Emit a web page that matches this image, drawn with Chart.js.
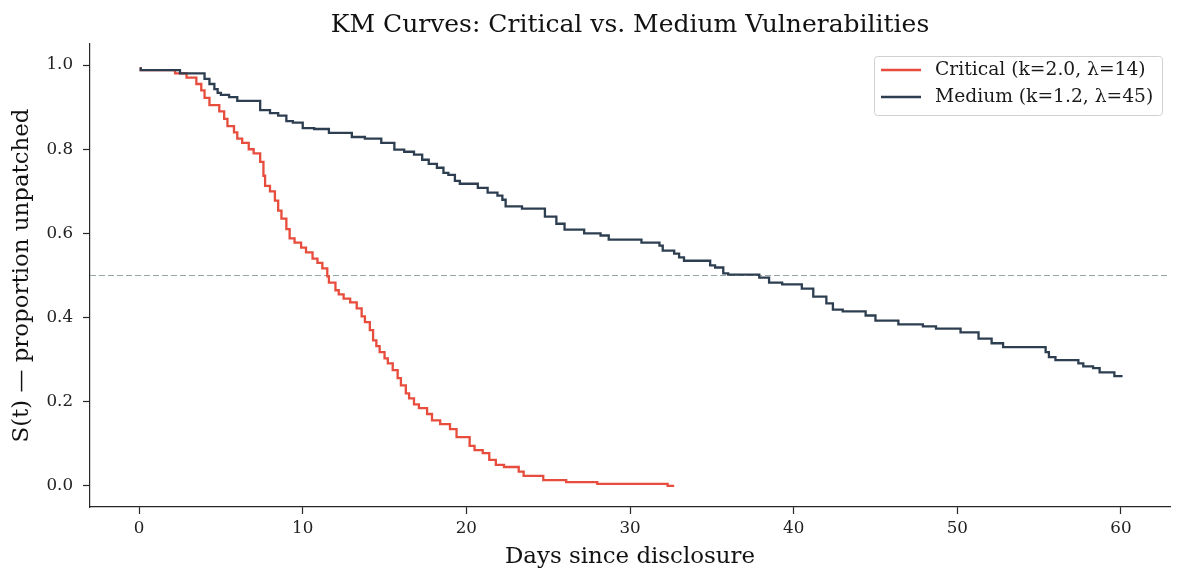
<!DOCTYPE html>
<html>
<head>
<meta charset="utf-8">
<script src="https://cdn.jsdelivr.net/npm/chart.js@4"></script>
<style>
  html, body { margin: 0; padding: 0; background: #fff; }
  #wrap { width: 1185px; height: 585px; }
</style>
</head>
<body>
<div id="wrap"><canvas id="km-chart"></canvas></div>
<script>
// Critical: days and survival proportion (KM step values)
const critDays = [0.1, 2.2, 2.9, 3.5, 3.8, 4.0, 4.3, 4.9, 5.2, 5.4, 5.8, 6.0, 6.3, 6.7, 7.0, 7.4, 7.6, 7.7, 8.0, 8.3,
  8.5, 8.7, 9.0, 9.2, 9.5, 9.9, 10.2, 10.6, 10.9, 11.2, 11.5, 11.6, 12.0, 12.2, 12.5, 12.9, 13.3, 13.6, 13.8, 14.1,
  14.3, 14.5, 14.7, 15.0, 15.2, 15.5, 15.8, 16.0, 16.3, 16.5, 16.8, 17.1, 17.6, 17.9, 18.4, 19.0, 19.4, 20.2, 20.5,
  21.0, 21.4, 21.8, 22.3, 23.2, 23.5, 24.7, 26.1, 28.0, 32.3, 32.5, 32.7];
const critSurv = [0.995, 0.988, 0.98, 0.97, 0.955, 0.94, 0.922, 0.905, 0.89, 0.872, 0.855, 0.84, 0.825, 0.815, 0.80, 0.79, 0.77, 0.737, 0.713, 0.70,
  0.678, 0.654, 0.635, 0.61, 0.588, 0.578, 0.566, 0.555, 0.54, 0.53, 0.517, 0.498, 0.483, 0.465, 0.455, 0.445, 0.436, 0.422, 0.403, 0.389,
  0.37, 0.346, 0.332, 0.318, 0.303, 0.291, 0.275, 0.256, 0.239, 0.22, 0.208, 0.194, 0.185, 0.171, 0.156, 0.147, 0.135, 0.116, 0.095,
  0.085, 0.078, 0.062, 0.05, 0.045, 0.034, 0.024, 0.014, 0.009, 0.005, 0.0, 0.0];

// Medium
const medDays = [0.1, 2.5, 4.0, 4.3, 4.6, 4.8, 5.0, 5.5, 6.0, 7.4, 8.0, 8.5, 9.0, 9.4, 10.0, 10.7, 11.6, 13.0, 13.8, 14.8,
  15.6, 16.2, 16.8, 17.3, 17.7, 18.2, 18.6, 18.9, 19.3, 19.6, 20.7, 21.3, 21.9, 22.2, 22.4, 23.4, 24.8, 25.5, 26.0, 27.2,
  28.2, 28.7, 30.7, 31.8, 32.0, 32.7, 33.0, 33.3, 34.9, 35.2, 35.7, 36.0, 37.9, 38.5, 39.3, 40.5, 41.2, 42.0, 42.4, 43.0,
  44.4, 45.0, 46.4, 47.9, 48.7, 50.2, 51.3, 52.1, 52.8, 55.4, 55.6, 56.0, 57.4, 57.7, 58.3, 58.7, 59.6, 59.8, 60.1];
const medSurv = [0.995, 0.988, 0.98, 0.967, 0.955, 0.943, 0.934, 0.929, 0.924, 0.915, 0.893, 0.886, 0.88, 0.867, 0.863, 0.85, 0.848, 0.839, 0.829, 0.825,
  0.815, 0.799, 0.794, 0.787, 0.775, 0.765, 0.756, 0.744, 0.739, 0.725, 0.718, 0.708, 0.697, 0.69, 0.68, 0.664, 0.659, 0.64, 0.623, 0.609,
  0.6, 0.595, 0.585, 0.578, 0.571, 0.559, 0.552, 0.543, 0.535, 0.524, 0.519, 0.505, 0.502, 0.495, 0.483, 0.479, 0.469, 0.45, 0.434, 0.419,
  0.415, 0.405, 0.393, 0.384, 0.379, 0.374, 0.365, 0.35, 0.339, 0.33, 0.318, 0.306, 0.299, 0.291, 0.284, 0.28, 0.27, 0.261, 0.261];

const xTicks = [0, 10, 20, 30, 40, 50, 60];
const yTicks = [0.0, 0.2, 0.4, 0.6, 0.8, 1.0];
const xRange = [-3, 63];
const yRange = [-0.05, 1.05];
const medianLevel = 0.5;

const chartTitle = "KM Curves: Critical vs. Medium Vulnerabilities";
const seriesLabels = ["Critical (k=2.0, \u03bb=14)", "Medium (k=1.2, \u03bb=45)"];
const seriesColors = ["#e74c3c", "#2c3e50"];

const SERIF = "'DejaVu Serif', serif";
const AXIS = "#262626";

function toPoints(xs, ys) {
  return xs.map((x, i) => ({ x: x, y: ys[i] }));
}

// title centred over the plot area (matplotlib style)
const axesTitle = {
  id: "axesTitle",
  afterDraw(chart) {
    const ctx = chart.ctx;
    const area = chart.chartArea;
    ctx.save();
    ctx.font = "25px " + SERIF;
    ctx.fillStyle = "#111";
    ctx.textAlign = "center";
    ctx.textBaseline = "alphabetic";
    ctx.fillText(chartTitle, (area.left + area.right) / 2, 32);
    ctx.restore();
  }
};

// legend drawn inside the plot, top-right
const insideLegend = {
  id: "insideLegend",
  afterDatasetsDraw(chart) {
    const ctx = chart.ctx;
    const area = chart.chartArea;
    const boxW = 288, boxH = 59;
    const x0 = area.right - 8 - boxW, y0 = area.top + 12;
    ctx.save();
    ctx.fillStyle = "rgba(255,255,255,0.85)";
    ctx.strokeStyle = "#d0d0d0";
    ctx.lineWidth = 1;
    ctx.beginPath();
    ctx.roundRect(x0 + 0.5, y0 + 0.5, boxW, boxH, 3);
    ctx.fill();
    ctx.stroke();
    ctx.font = "18.7px " + SERIF;
    ctx.textBaseline = "middle";
    seriesLabels.forEach((lab, i) => {
      const yy = y0 + 14 + i * 27;
      ctx.strokeStyle = seriesColors[i];
      ctx.lineWidth = 2.3;
      ctx.beginPath();
      ctx.moveTo(x0 + 7, yy);
      ctx.lineTo(x0 + 47, yy);
      ctx.stroke();
      ctx.fillStyle = "#1a1a1a";
      ctx.fillText(lab, x0 + 61, yy);
    });
    ctx.restore();
  }
};

new Chart(document.getElementById("km-chart").getContext("2d"), {
  type: "line",
  data: {
    datasets: [
      {
        label: "median",
        data: [{ x: xRange[0], y: medianLevel }, { x: xRange[1], y: medianLevel }],
        borderColor: "#95a5a6",
        borderWidth: 1.2,
        borderDash: [6, 3],
        pointRadius: 0,
        order: 3,
      },
      {
        label: seriesLabels[0],
        data: toPoints(critDays, critSurv),
        borderColor: seriesColors[0],
        borderWidth: 2.3,
        stepped: "after",
        pointRadius: 0,
        order: 2,
      },
      {
        label: seriesLabels[1],
        data: toPoints(medDays, medSurv),
        borderColor: seriesColors[1],
        borderWidth: 2.3,
        stepped: "after",
        pointRadius: 0,
        order: 1,
      },
    ],
  },
  options: {
    responsive: true,
    maintainAspectRatio: false,
    animation: false,
    layout: { padding: { left: 0, right: 15, top: 44, bottom: 0 } },
    plugins: {
      legend: { display: false },
      tooltip: { enabled: false },
      title: { display: false },
    },
    scales: {
      x: {
        type: "linear",
        min: xRange[0],
        max: xRange[1],
        afterBuildTicks: (s) => { s.ticks = xTicks.map((v) => ({ value: v })); },
        afterFit: (s) => { s.height = 78; },
        grid: { drawOnChartArea: false, drawTicks: true, tickLength: 7, color: AXIS, tickWidth: 1.2 },
        border: { display: true, color: AXIS, width: 1.2 },
        ticks: { color: "#222", padding: 5, maxRotation: 0, font: { family: SERIF, size: 16.7 } },
        title: {
          display: true,
          text: "Days since disclosure",
          color: "#111",
          font: { family: SERIF, size: 22.9, lineHeight: 1.2 },
          padding: { top: 0, bottom: 14 },
        },
      },
      y: {
        type: "linear",
        min: yRange[0],
        max: yRange[1],
        afterBuildTicks: (s) => { s.ticks = yTicks.map((v) => ({ value: v })); },
        afterFit: (s) => { s.width = 90; },
        grid: { drawOnChartArea: false, drawTicks: true, tickLength: 7, color: AXIS, tickWidth: 1.2 },
        border: { display: true, color: AXIS, width: 1.2 },
        ticks: {
          color: "#222",
          padding: 10,
          font: { family: SERIF, size: 16.7 },
          callback: (v) => Number(v).toFixed(1),
        },
        title: {
          display: true,
          text: "S(t) \u2014 proportion unpatched",
          color: "#111",
          font: { family: SERIF, size: 22.9, lineHeight: 1.2 },
          padding: { top: 8, bottom: 0 },
        },
      },
    },
  },
  plugins: [insideLegend, axesTitle],
});
</script>
</body>
</html>
